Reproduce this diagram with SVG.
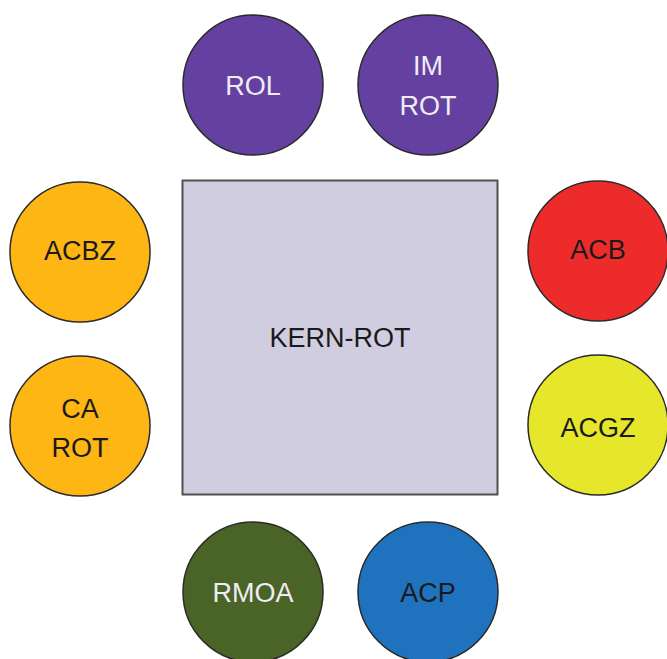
<svg xmlns="http://www.w3.org/2000/svg" width="667" height="659" viewBox="0 0 667 659">
<style>
.c{stroke:#2a2a2a;stroke-width:1.5}
.t{font-family:"Liberation Sans",Arial,sans-serif;font-size:27px;text-anchor:middle}
.w{fill:#f0ecf4}
.d{fill:#1a1a1a}
</style>
<rect width="667" height="659" fill="#ffffff"/>
<g id="connectors"></g>
<g id="kern"><rect x="182.5" y="180.5" width="315" height="314" fill="#d1cde0" stroke="#505050" stroke-width="2"/><text class="t d" x="340" y="347">KERN-ROT</text></g>
<g id="rol"><circle class="c" cx="253" cy="85" r="70" fill="#6441a0"/><text class="t w" x="253" y="95">ROL</text></g>
<g id="imrot"><circle class="c" cx="428" cy="85" r="70" fill="#6441a0"/><text class="t w" x="428" y="75">IM</text><text class="t w" x="428" y="115">ROT</text></g>
<g id="acbz"><circle class="c" cx="80" cy="252" r="70" fill="#fdb614"/><text class="t d" x="80" y="260">ACBZ</text></g>
<g id="carot"><circle class="c" cx="80" cy="426" r="70" fill="#fdb614"/><text class="t d" x="80" y="418">CA</text><text class="t d" x="80" y="457">ROT</text></g>
<g id="acb"><circle class="c" cx="598" cy="251" r="70" fill="#ee2b2b"/><text class="t d" x="598" y="259">ACB</text></g>
<g id="acgz"><circle class="c" cx="598" cy="425" r="70" fill="#e6e62a"/><text class="t d" x="598" y="437">ACGZ</text></g>
<g id="rmoa"><circle class="c" cx="253" cy="592" r="70" fill="#4a6326"/><text class="t w" x="253" y="602">RMOA</text></g>
<g id="acp"><circle class="c" cx="428" cy="592" r="70" fill="#1f73be"/><text class="t d" x="428" y="602">ACP</text></g>
</svg>
